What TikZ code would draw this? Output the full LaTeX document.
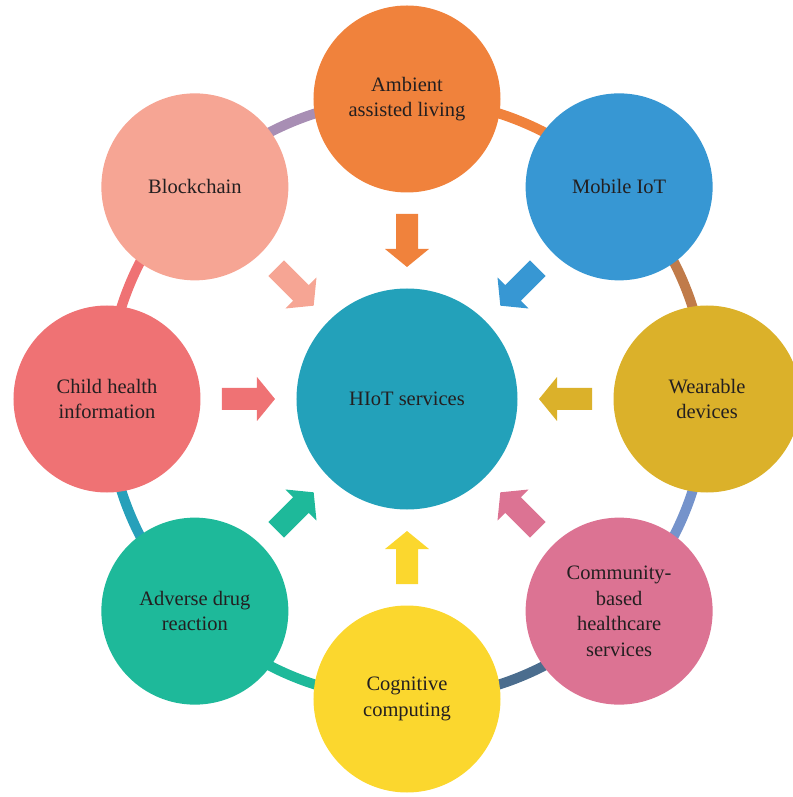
\documentclass[tikz,border=0pt]{standalone}
\usepackage{fontspec}
\setmainfont{Liberation Serif}
\definecolor{txt}{HTML}{231F20}
\definecolor{cCenter}{HTML}{23A1BA}
\definecolor{cAmb}{HTML}{F0823C}
\definecolor{cMob}{HTML}{3797D3}
\definecolor{cWear}{HTML}{DBB12A}
\definecolor{cComm}{HTML}{DC7393}
\definecolor{cCog}{HTML}{FBD72E}
\definecolor{cAdv}{HTML}{1EB99A}
\definecolor{cChild}{HTML}{EF7274}
\definecolor{cBlock}{HTML}{F6A594}
\definecolor{rA}{HTML}{F0823C}
\definecolor{rB}{HTML}{C07B4A}
\definecolor{rC}{HTML}{7593CB}
\definecolor{rD}{HTML}{4B6D8E}
\definecolor{rE}{HTML}{1EB99A}
\definecolor{rF}{HTML}{27A0BA}
\definecolor{rG}{HTML}{EF7274}
\definecolor{rH}{HTML}{A88EB4}
\newcommand\inarrow[2]{%
  \fill[#2,rotate=#1] (185,11) -- (150,11) -- (150,22) -- (132,0) -- (150,-22) -- (150,-11) -- (185,-11) -- cycle;}
\newcommand\ringarc[3]{%
  \draw[line width=10pt,#3] (#1:300) arc[start angle=#1, end angle=#2, radius=300];}
\begin{document}
\begin{tikzpicture}[x=1pt,y=1pt,
  bub/.style={circle, minimum size=187pt, inner sep=0pt, align=center, text=txt,
    font=\fontsize{20.5}{25.5}\selectfont}]
\useasboundingbox (-407,-398) rectangle (385,399);
% ring
\ringarc{90}{45}{rA}
\ringarc{45}{0}{rB}
\ringarc{0}{-45}{rC}
\ringarc{-45}{-90}{rD}
\ringarc{-90}{-135}{rE}
\ringarc{-135}{-180}{rF}
\ringarc{180}{135}{rG}
\ringarc{135}{90}{rH}
% circles
\node[bub, minimum size=221pt, fill=cCenter] (center) at (0,0) {HIoT services};
\node[bub, fill=cAmb] (amb) at (90:300) {Ambient\\assisted living};
\node[bub, fill=cMob] (mob) at (45:300) {Mobile IoT};
\node[bub, fill=cWear] (wear) at (0:300) {Wearable\\devices};
\node[bub, fill=cComm] (comm) at (-45:300) {Community-\\based\\healthcare\\services};
\node[bub, fill=cCog] (cog) at (-90:300) {Cognitive\\computing};
\node[bub, fill=cAdv] (adv) at (-135:300) {Adverse drug\\reaction};
\node[bub, fill=cChild] (child) at (180:300) {Child health\\information};
\node[bub, fill=cBlock] (block) at (135:300) {Blockchain};
% arrows
\inarrow{90}{cAmb}
\inarrow{45}{cMob}
\inarrow{0}{cWear}
\inarrow{-45}{cComm}
\inarrow{-90}{cCog}
\inarrow{-135}{cAdv}
\inarrow{180}{cChild}
\inarrow{135}{cBlock}
\end{tikzpicture}
\end{document}
